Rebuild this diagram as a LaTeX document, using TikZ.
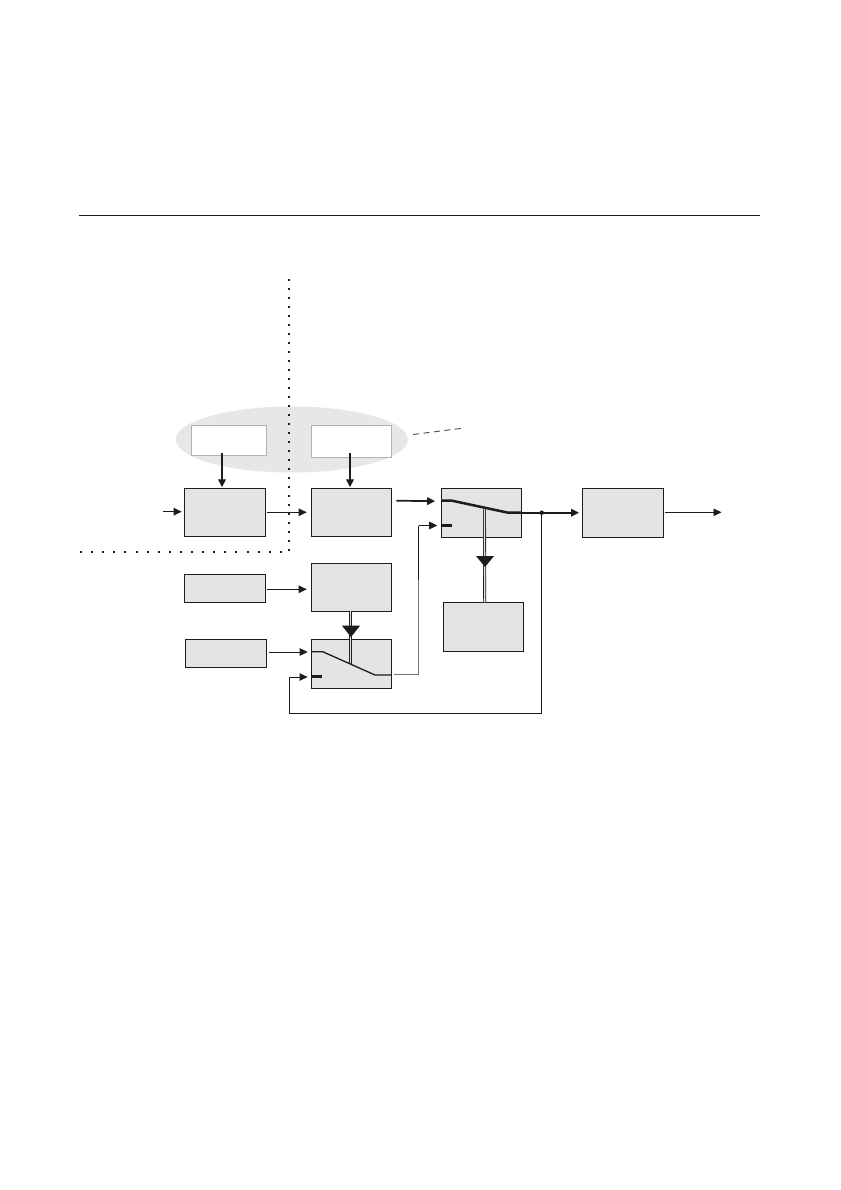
\documentclass[tikz,border=0pt]{standalone}
\usetikzlibrary{arrows.meta,calc,shapes.geometric}
\definecolor{boxgray}{HTML}{E4E4E6}
\definecolor{halogray}{HTML}{E7E7E9}
\definecolor{ink}{HTML}{1C1C1C}
\tikzset{
  blk/.style={draw=ink,fill=boxgray,line width=1pt,inner sep=0pt,outer sep=0pt,minimum width=80.6pt},
  whitebox/.style={draw=black!30,fill=white,line width=0.8pt,inner sep=0pt,outer sep=0pt},
  halo/.style={ellipse,fill=halogray,inner sep=0pt,outer sep=0pt,minimum width=232pt,minimum height=66pt},
  conn/.style={draw=ink,line width=0.95pt,-{Triangle[length=8pt,width=7.5pt]}},
  thickconn/.style={draw=ink,line width=1.7pt,-{Triangle[length=8pt,width=7.5pt]}},
  thinsw/.style={draw=ink,line width=1.3pt,line join=round},
  thicksw/.style={draw=ink,line width=2.5pt,line join=round},
  bar/.style={draw=ink,line width=2.6pt},
  dbl/.style={draw=ink,line width=0.8pt,double=boxgray,double distance=1.3pt},
  wedge/.style={fill=ink},
  dotmark/.style={fill=ink,minimum size=2pt,inner sep=0pt,outer sep=0pt},
  junction/.style={circle,fill=ink,minimum size=4.5pt,inner sep=0pt,outer sep=0pt},
}
\begin{document}
\begin{tikzpicture}[x=1pt,y=-1pt]
\useasboundingbox (0,0) rectangle (840,1190);
\fill[white] (0,0) rectangle (840,1190);
% page rule
\coordinate (ruleL) at (79,215.3);
\coordinate (ruleR) at (760,215.3);
\draw[ink,line width=1.2pt] (ruleL) -- (ruleR);
% halo
\node[halo] (ell) at (291.8,439.5) {};
\coordinate (dashEnd) at (464,428);
\draw[black!70,line width=0.9pt,dash pattern=on 6pt off 4.5pt] ($(ell.east)+(5.3,-5)$) -- (dashEnd);
% dotted boundary
\foreach \k in {0,...,30} \node[dotmark] (v\k) at (288.8,280.3+9*\k) {};
\foreach \k in {0,...,18} \node[dotmark] (h\k) at (81+11.1*\k,552.3) {};
% boxes
\node[whitebox,minimum width=75pt,minimum height=30pt] (C) at (229.2,440.3) {};
\node[whitebox,minimum width=80.4pt,minimum height=32pt] (D) at (351.5,441.3) {};
\node[blk,minimum height=48pt] (A) at (225,512.3) {};
\node[blk,minimum height=48pt] (B) at (351.5,512.3) {};
\node[blk,minimum height=49pt] (I) at (481.5,512.8) {};
\node[blk,minimum height=49pt] (K) at (623,512.8) {};
\node[blk,minimum height=49pt] (J) at (483.5,626.8) {};
\node[blk,minimum height=28pt] (E) at (225,588.3) {};
\node[blk,minimum height=48pt] (F) at (351.5,587.3) {};
\node[blk,minimum height=28pt] (G) at (226,653.3) {};
\node[blk,minimum height=49pt] (H) at (351.5,663.8) {};
% named free ends
\coordinate (inL) at (163.3,511.7);
\coordinate (outR) at (721.5,512.3);
% arrows between blocks
\draw[conn] (inL) -- ($(A.west)+(-3,-0.6)$);
\draw[conn] ($(A.east)+(1.5,0)$) -- ($(B.west)+(-4.5,0)$);
\draw[conn] ($(K.east)+(1.7,-0.5)$) -- (outR);
\draw[conn] ($(E.east)+(1.5,1)$) -- ($(F.west)+(-4.5,2)$);
\draw[conn] ($(G.east)+(3,-1.3)$) -- ($(H.west)+(-3.5,-11.8)$);
\draw[thickconn] ($(C.south)+(-7.2,-2)$) -- ($(A.north)+(-3,-1)$);
\draw[thickconn] ($(D.south)+(-1.5,-4)$) -- ($(B.north)+(-1.5,-1)$);
\draw[thickconn] ($(B.east)+(4.5,-11.6)$) -- ($(I.west)+(-6,-11.6)$);
% control double lines
\draw[dbl] ($(F.south)+(-1.2,0)$) -- ($(H.north)+(-1.2,24.7)$);
\draw[dbl] ($(J.north)+(1.2,0)$) -- ($(I.south)+(3,-28)$);
\fill[wedge] (342,625.7) -- (360,625.7) -- (351,637) -- cycle;
\fill[wedge] (476,556) -- (494,556) -- (485,567) -- cycle;
% switch H
\draw[thinsw] (H.west |- 0,651.7) -- (322.7,651.7) -- (375,675) -- (H.east |- 0,675);
\draw[bar] (H.west |- 0,676.3) -- (322,676.3);
% switch I
\draw[thicksw] (I.west |- 0,500.7) -- (452,500.7) -- (508,512.7) -- (I.east |- 0,512.7);
\draw[bar] (I.west |- 0,525.5) -- (452,525.5);
% I to K with junction
\node[junction] (jn) at (541.7,512.7) {};
\draw[thickconn] (I.east |- jn) -- ($(K.west)+(-3.7,-0.1)$);
% H to I feedback
\draw[draw=black!55,line width=1pt] ($(H.east)+(2.5,10.7)$) -| (418.6,525.5);
\draw[conn] (418.6,525.5) -- ($(I.west)+(-4,12.7)$);
\draw[draw=ink,line width=0.9pt] (418.6,525.5) -- (418.6,580);
% output feedback to H
\draw[conn] (jn) |- (289.3,713.3) |- ($(H.west)+(-3.6,13.2)$);
\end{tikzpicture}
\end{document}
